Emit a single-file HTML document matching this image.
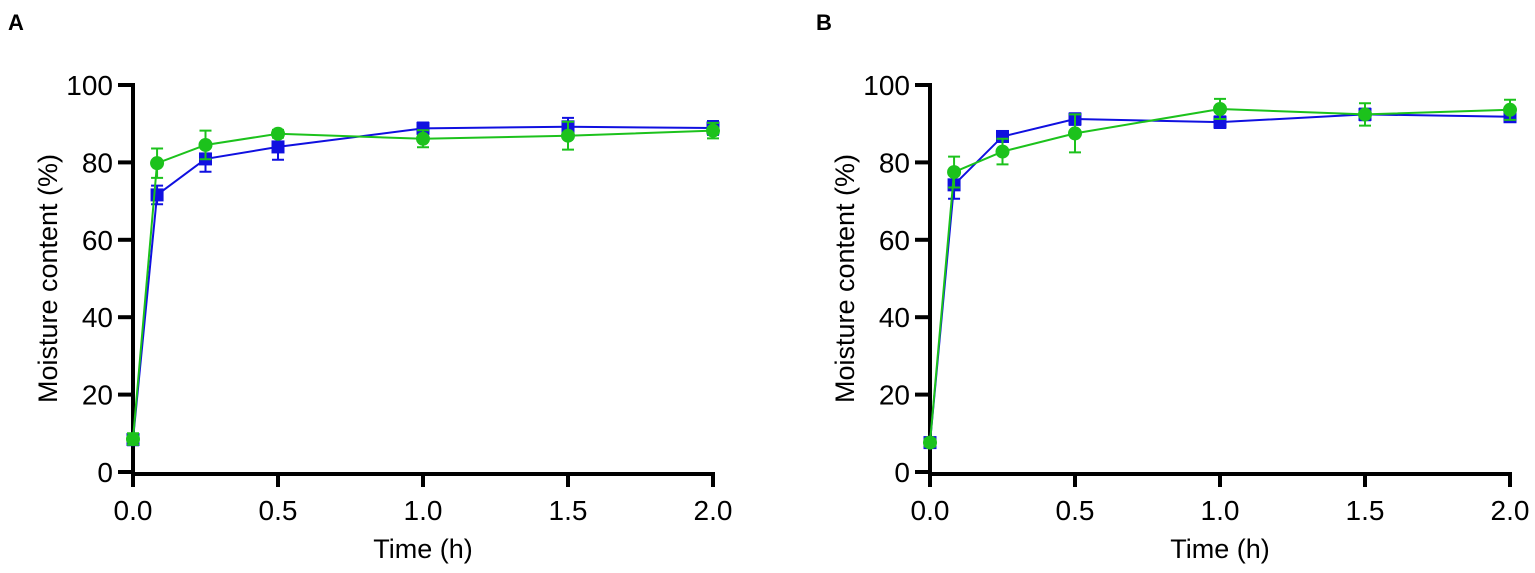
<!DOCTYPE html>
<html><head><meta charset="utf-8"><style>
body{margin:0;background:#fff}
svg{display:block;font-family:"Liberation Sans",Arial,sans-serif}
</style></head><body>
<svg id="chart" width="1535" height="573" viewBox="0 0 1535 573"></svg>
<script>
const times=[0,0.083,0.25,0.5,1.0,1.5,2.0];
const aBlue=[8.4,71.6,80.9,84.0,88.8,89.2,88.9];
const aBlueErr=[1.5,2.4,3.3,3.3,1.5,2.3,1.8];
const aGreen=[8.5,79.8,84.5,87.4,86.1,86.9,88.2];
const aGreenErr=[1.5,3.8,3.7,1.0,2.2,3.6,2.0];
const bBlue=[7.6,74.2,86.7,91.2,90.4,92.4,91.8];
const bBlueErr=[1.0,3.6,1.2,1.5,1.5,1.5,1.2];
const bGreen=[7.6,77.5,82.8,87.5,93.8,92.4,93.6];
const bGreenErr=[1.0,4.0,3.3,4.9,2.6,2.9,2.6];
const yTicks=[0,20,40,60,80,100];
const xTicks=[0,0.5,1.0,1.5,2.0];
const xTickLabels=["0.0","0.5","1.0","1.5","2.0"];

const NS="http://www.w3.org/2000/svg";
const svg=document.getElementById('chart');
function mk(tag,attrs,parent){const e=document.createElementNS(NS,tag);for(const k in attrs)e.setAttribute(k,attrs[k]);(parent||svg).appendChild(e);return e;}

function panel(x0,letter,lx,blue,blueErr,green,greenErr,key){
  const W=580,Y0=472,Y1=85;
  const sx=v=>x0+v/2*W, sy=v=>Y0-v/100*(Y0-Y1);
  const g=mk('g',{});
  
  
  const L=mk('text',{x:lx,y:30,'font-size':22,'font-weight':'bold'},g);L.textContent=letter;
  
  
  const ax=mk('path',{d:`M${x0},${Y1-2}V${Y0+2}H${x0+W+2}`,stroke:'#000','stroke-width':4,fill:'none'},g);
  
  
  yTicks.forEach(t=>{
    mk('line',{x1:x0-15,x2:x0,y1:sy(t),y2:sy(t),stroke:'#000','stroke-width':4},g);
    const tx=mk('text',{x:x0-20,y:sy(t)+10,'font-size':28,'text-anchor':'end'},g);tx.textContent=t;
    
    
  });
  xTicks.forEach((t,i)=>{
    mk('line',{x1:sx(t),x2:sx(t),y1:Y0,y2:Y0+15,stroke:'#000','stroke-width':4},g);
    const tx=mk('text',{x:sx(t),y:520,'font-size':28,'text-anchor':'middle'},g);tx.textContent=xTickLabels[i];
    
    
  });
  const xt=mk('text',{x:x0+W/2,y:558,'font-size':27,'text-anchor':'middle'},g);xt.textContent='Time (h)';
  
  
  const yt=mk('text',{x:0,y:0,'font-size':27,'text-anchor':'middle',transform:`translate(${x0-76},${(Y0+Y1)/2}) rotate(-90)`},g);yt.textContent='Moisture content (%)';
  
  
  function series(vals,errs,color,shape,name){
    const sg=mk('g',{},g);
    
    
    mk('polyline',{points:times.map((t,i)=>sx(t)+','+sy(vals[i])).join(' '),fill:'none',stroke:color,'stroke-width':2},sg);
    times.forEach((t,i)=>{
      const x=sx(t),yh=sy(vals[i]+errs[i]),yl=sy(vals[i]-errs[i]);
      mk('path',{d:`M${x},${yh}V${yl}M${x-6},${yh}H${x+6}M${x-6},${yl}H${x+6}`,stroke:color,'stroke-width':2,fill:'none'},sg);
      const m=shape==='sq'?mk('rect',{x:x-6.5,y:sy(vals[i])-6.5,width:13,height:13,fill:color},sg):mk('circle',{cx:x,cy:sy(vals[i]),r:7,fill:color},sg);
      
      
    });
  }
  series(blue,blueErr,'#1010e0','sq','blue-series-'+key);
  series(green,greenErr,'#1cc21c','ci','green-series-'+key);
}
panel(133,'A',8,aBlue,aBlueErr,aGreen,aGreenErr,'a');
panel(930,'B',816,bBlue,bBlueErr,bGreen,bGreenErr,'b');
</script>
</body></html>
